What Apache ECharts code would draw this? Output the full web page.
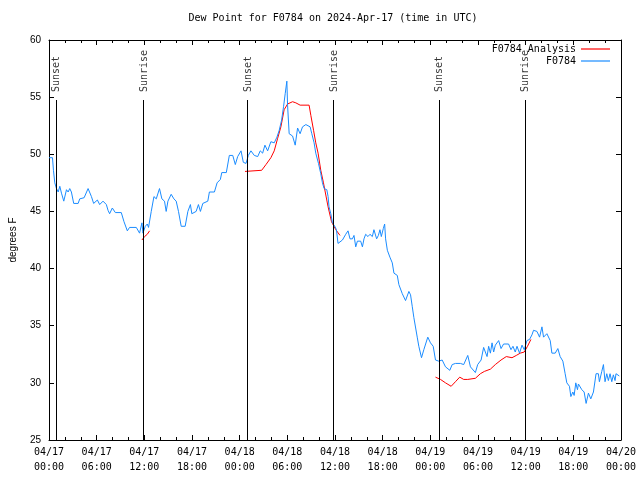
<!DOCTYPE html>
<html><head><meta charset="utf-8">
<script src="https://cdn.jsdelivr.net/npm/echarts@6/dist/echarts.min.js"></script>
<style>html,body{margin:0;padding:0;background:#fff}#c{width:640px;height:480px}</style>
</head><body><div id="c"></div>
<script>
// ---- data ----
const xTickLabels = ['04/17\n00:00','04/17\n06:00','04/17\n12:00','04/17\n18:00','04/18\n00:00','04/18\n06:00','04/18\n12:00','04/18\n18:00','04/19\n00:00','04/19\n06:00','04/19\n12:00','04/19\n18:00','04/20\n00:00'];
const yTickValues = [25,30,35,40,45,50,55,60];
const sunHours = [0.85, 11.83, 25.0, 35.76, 49.07, 59.9];
const sunLabels = ['Sunset','Sunrise','Sunset','Sunrise','Sunset','Sunrise'];
// observed dew point (hours since 2024-04-17 00:00 UTC)
const obsHours = [0,0.44,0.56,0.73,0.94,1.16,1.36,1.57,1.86,2.20,2.41,2.61,2.82,3.11,3.67,3.87,4.42,4.92,5.34,5.62,6.09,6.38,6.80,7.22,7.43,7.63,7.97,8.35,9.10,9.44,9.86,10.14,10.99,11.40,11.70,11.83,12.12,12.37,12.53,12.87,13.21,13.50,13.91,14.21,14.54,14.75,14.97,15.38,15.72,16.01,16.30,16.64,17.14,17.48,17.80,17.98,18.52,18.81,19.06,19.36,19.99,20.19,20.82,21.16,21.57,21.75,22.32,22.70,23.13,23.45,23.75,24.17,24.46,24.80,25.09,25.42,25.84,26.27,26.59,26.89,27.18,27.52,27.93,28.35,28.69,28.98,29.28,29.53,29.73,29.94,30.03,30.23,30.66,30.99,31.29,31.61,31.91,32.33,32.54,32.87,33.08,33.37,33.58,33.92,34.21,34.42,34.63,34.97,35.13,35.25,35.47,35.68,35.97,36.18,36.38,36.63,36.94,37.35,37.64,37.89,38.19,38.39,38.61,38.82,39.23,39.45,39.65,39.86,40.15,40.40,40.70,40.90,41.24,41.46,41.66,41.83,42.08,42.25,42.37,42.59,42.91,43.21,43.42,43.84,44.04,44.47,44.88,45.30,45.51,45.72,45.93,46.14,46.35,46.55,46.89,47.18,47.68,48.02,48.36,48.65,49.06,49.49,49.91,50.12,50.45,50.75,51.16,51.79,52.20,52.71,53.05,53.67,53.96,54.39,54.71,55.14,55.34,55.56,55.77,55.97,56.18,56.60,56.90,57.22,57.85,58.15,58.40,58.69,58.91,59.23,59.54,59.82,60.16,60.49,60.79,60.99,61.42,61.75,62.05,62.25,62.67,63.09,63.30,63.72,64.05,64.34,64.68,64.97,65.18,65.51,65.69,65.94,66.10,66.31,66.52,66.64,67.07,67.36,67.61,67.90,68.20,68.53,68.86,69.15,69.28,69.58,69.79,69.99,70.21,70.41,70.62,70.84,71.04,71.25,71.37,71.79];
const obsDew = [49.7,49.7,48.6,47.5,47.0,46.7,47.2,46.6,45.9,46.9,46.7,47.0,46.7,45.7,45.7,46.1,46.2,47.0,46.3,45.7,46.0,45.6,45.9,45.6,45.1,44.8,45.3,44.9,44.9,44.1,43.3,43.6,43.6,43.1,44.0,43.1,43.7,43.9,43.6,45.0,46.3,46.1,47.0,46.1,45.9,45.0,45.9,46.5,46.1,45.9,45.0,43.7,43.7,45.0,45.6,44.8,45.0,45.6,45.0,45.7,45.9,46.7,46.7,47.5,47.8,48.4,48.4,49.9,49.9,49.1,49.8,50.3,49.3,49.2,49.9,50.3,49.9,49.8,50.3,50.1,50.8,50.3,51.1,51.0,51.5,52.1,53.0,54.2,55.3,56.4,54.3,51.8,51.6,50.8,52.3,51.8,52.4,52.6,52.7,52.4,51.8,51.0,50.1,49.2,48.3,47.5,47.0,46.9,46.3,45.4,44.8,44.0,43.7,43.4,42.2,42.2,42.5,43.0,43.3,42.6,42.6,42.9,41.9,42.4,42.4,41.9,42.6,43.0,42.8,43.0,42.8,43.4,42.6,42.9,43.4,42.8,43.5,43.9,42.6,41.6,41.0,40.5,39.6,39.4,38.6,37.8,37.2,38.0,37.7,36.7,35.7,35.7,34.0,33.2,32.2,32.9,34.0,33.5,33.2,32.0,31.9,32.0,31.4,31.5,31.1,31.6,31.7,31.7,31.6,32.4,31.4,30.9,31.6,32.0,33.1,32.3,33.2,32.6,33.5,32.7,33.3,33.7,33.0,33.4,33.4,32.9,33.2,32.7,33.2,32.6,33.3,32.9,33.7,33.8,34.2,34.6,34.5,34.0,34.9,34.0,34.3,33.7,32.6,32.6,33.0,32.3,31.9,30.8,30.0,29.7,28.8,29.2,28.9,30.0,29.4,29.9,29.4,29.2,28.2,29.1,28.6,29.2,30.8,30.8,30.1,31.0,31.6,30.1,30.8,30.2,30.8,30.1,30.7,30.2,30.8,30.6];
// analysis dew point (null = gap between analysis segments)
const anaHours = [11.70,12.03,12.37,12.66,null,24.67,26.77,27.31,27.93,28.35,28.78,29.19,29.60,30.03,30.66,31.07,31.61,32.74,32.96,33.30,33.58,33.87,34.21,34.55,35.13,35.56,36.10,36.63,null,48.65,49.28,49.91,50.62,51.16,51.70,52.20,52.71,53.67,54.30,54.80,55.56,56.18,56.90,57.56,58.28,58.82,59.32,59.82,60.23,60.66];
const anaDew = [42.5,42.8,43.0,43.3,null,48.5,48.6,49.1,49.7,50.3,51.4,52.4,53.9,54.4,54.6,54.5,54.3,54.3,53.4,52.1,51.0,50.1,48.6,47.5,45.4,44.1,43.4,42.9,null,30.5,30.3,30.0,29.7,30.1,30.5,30.3,30.3,30.4,30.8,31.0,31.2,31.6,32.0,32.3,32.2,32.4,32.6,32.7,33.2,33.8];

// ---- chart ----
const yMin = yTickValues[0], yMax = yTickValues[yTickValues.length-1];
const yStep = yTickValues[1]-yTickValues[0];
const xMax = (xTickLabels.length-1)*6;
const MONO = 'DejaVu Sans Mono';
const SANS = 'Liberation Sans';

const obsData = obsHours.map((h,i)=>[h, obsDew[i]]);
const anaData = anaHours.map((h,i)=> h===null ? ['-','-'] : [h, anaDew[i]]);

const axisCommon = {
  type:'value', min:0, max:xMax, interval:6,
  axisLine:{show:true, onZero:false, lineStyle:{color:'#000', width:1}},
  axisTick:{show:true, inside:true, length:5, lineStyle:{color:'#000'}},
  minorTick:{show:true, splitNumber:3, length:3, lineStyle:{color:'#000'}},
  splitLine:{show:false}, minorSplitLine:{show:false}
};
const yCommon = {
  type:'value', min:yMin, max:yMax, interval:yStep,
  axisLine:{show:true, onZero:false, lineStyle:{color:'#000', width:1}},
  axisTick:{show:true, inside:true, length:5, lineStyle:{color:'#000'}},
  splitLine:{show:false}
};
const legendCommon = {right:30, orient:'vertical', align:'right', padding:0, icon:'rect', itemWidth:29, itemHeight:1.2,
  textStyle:{fontFamily:MONO, fontSize:10, color:'#000'}};

const option = {
  animation:false,
  backgroundColor:'#fff',
  title:{text:'Dew Point for F0784 on 2024-Apr-17 (time in UTC)', left:333, top:13, textAlign:'center', padding:0,
    textStyle:{fontFamily:MONO, fontSize:10, fontWeight:'normal', color:'#000'}},
  legend:[
    Object.assign({data:['F0784 Analysis'], top:44}, legendCommon),
    Object.assign({data:['F0784'], top:56}, legendCommon)
  ],
  grid:{left:48, right:19, top:40, bottom:40, containLabel:false},
  xAxis:[
    Object.assign({}, axisCommon, {position:'bottom',
      axisLabel:{show:true, margin:5, lineHeight:15, fontFamily:MONO, fontSize:10, color:'#000',
        formatter:(v)=>xTickLabels[Math.round(v/6)]}}),
    Object.assign({}, axisCommon, {position:'top', axisLabel:{show:false}})
  ],
  yAxis:[
    Object.assign({}, yCommon, {position:'left', name:'degrees F', nameLocation:'middle', nameGap:31, nameRotate:90,
      nameTextStyle:{fontFamily:SANS, fontSize:10, color:'#000'},
      axisLabel:{show:true, margin:8, fontFamily:SANS, fontSize:10, color:'#000'}}),
    Object.assign({}, yCommon, {position:'right', axisLabel:{show:false}})
  ],
  series:[
    {name:'F0784 Analysis', type:'line', data:anaData, symbol:'none', connectNulls:false,
      lineStyle:{color:'#ff0000', width:1}, itemStyle:{color:'#ff0000'}, z:2},
    {name:'F0784', type:'line', data:obsData, symbol:'none',
      lineStyle:{color:'#1a8cff', width:1}, itemStyle:{color:'#1a8cff'}, z:3},
    {name:'sun', type:'scatter', silent:true, symbolSize:1, itemStyle:{color:'rgba(0,0,0,0)'}, z:4,
      data: sunHours.map((h,i)=>({value:[h, yMin + 0.87*(yMax-yMin)], name:sunLabels[i]})),
      label:{show:true, position:'inside', rotate:90, align:'left', verticalAlign:'middle', offset:[0,1],
        fontFamily:MONO, fontSize:10, color:'#000', formatter:(p)=>p.name},
      markLine:{silent:true, symbol:['none','none'], label:{show:false},
        lineStyle:{color:'#000', width:1, type:'solid'},
        data: sunHours.map(h=>[{coord:[h, yMin]}, {coord:[h, yMin + 0.85*(yMax-yMin)]}])}
    }
  ]
};
const chart = echarts.init(document.getElementById('c'), null, {renderer:'canvas'});
chart.setOption(option);
</script>
</body></html>
